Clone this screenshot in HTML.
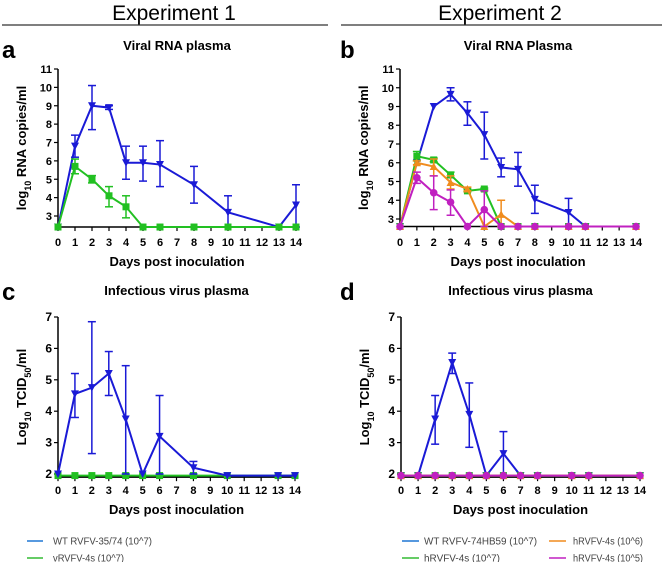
<!DOCTYPE html>
<html><head><meta charset="utf-8"><style>
body{margin:0;background:#fff;}
svg text{font-family:"Liberation Sans",sans-serif;}
</style></head><body>
<svg id="fig" width="662" height="562" viewBox="0 0 662 562">
<text x="174" y="20" text-anchor="middle" font-size="21">Experiment 1</text>
<text x="500" y="20" text-anchor="middle" font-size="21">Experiment 2</text>
<line x1="2" y1="25" x2="328" y2="25" stroke="#333" stroke-width="1.3"/>
<line x1="341" y1="25" x2="662" y2="25" stroke="#333" stroke-width="1.3"/>
<g id="legends" font-size="10" fill="#444">
<line x1="27" y1="541" x2="43" y2="541" stroke="#1f77d4" stroke-width="1.5"/>
<text x="53" y="544.5" textLength="99" lengthAdjust="spacingAndGlyphs">WT RVFV-35/74 (10^7)</text>
<line x1="27" y1="558" x2="43" y2="558" stroke="#33bb33" stroke-width="1.5"/>
<text x="53" y="561.5" textLength="71" lengthAdjust="spacingAndGlyphs">vRVFV-4s (10^7)</text>
<line x1="402" y1="541" x2="419" y2="541" stroke="#1f77d4" stroke-width="1.5"/>
<text x="424" y="544.5" textLength="113" lengthAdjust="spacingAndGlyphs">WT RVFV-74HB59 (10^7)</text>
<line x1="402" y1="558" x2="419" y2="558" stroke="#33bb33" stroke-width="1.5"/>
<text x="424" y="561.5" textLength="76" lengthAdjust="spacingAndGlyphs">hRVFV-4s (10^7)</text>
<line x1="549" y1="541" x2="566" y2="541" stroke="#f08c1e" stroke-width="1.5"/>
<text x="573" y="544.5" textLength="70" lengthAdjust="spacingAndGlyphs">hRVFV-4s (10^6)</text>
<line x1="549" y1="558" x2="566" y2="558" stroke="#c020c0" stroke-width="1.5"/>
<text x="573" y="561.5" textLength="70" lengthAdjust="spacingAndGlyphs">hRVFV-4s (10^5)</text>
</g>
</svg>
<script>
const xTicks=[0,1,2,3,4,5,6,7,8,9,10,11,12,13,14];
const rnaTicks=[3,4,5,6,7,8,9,10,11];
const tcidTicks=[2,3,4,5,6,7];
// Panel a
const aDays=[0,1,2,3,4,5,6,8,10,13,14];
const aWT=[2.4,6.8,9.0,8.9,5.9,5.9,5.8,4.7,3.2,2.4,3.6];
const aWTlo=[2.4,6.2,7.7,8.8,5.0,4.9,4.6,3.7,2.4,2.4,2.4];
const aWThi=[2.4,7.4,10.1,9.0,6.8,6.8,7.1,5.7,4.1,2.4,4.7];
const aV=[2.4,5.7,5.0,4.1,3.5,2.4,2.4,2.4,2.4,2.4,2.4];
const aVlo=[2.4,5.3,4.8,3.5,2.9,2.4,2.4,2.4,2.4,2.4,2.4];
const aVhi=[2.4,6.1,5.2,4.6,4.1,2.4,2.4,2.4,2.4,2.4,2.4];
// Panel b
const bDays=[0,1,2,3,4,5,6,7,8,10,11,14];
const bWT=[2.6,6.0,9.0,9.65,8.65,7.5,5.75,5.65,4.05,3.35,2.6,2.6];
const bWTlo=[2.6,6.0,9.0,9.3,8.0,6.2,5.25,4.75,3.3,2.6,2.6,2.6];
const bWThi=[2.6,6.0,9.0,10.0,9.25,8.7,6.25,6.55,4.8,4.1,2.6,2.6];
const bG=[2.6,6.35,6.15,5.35,4.5,4.6,2.6,2.6,2.6,2.6,2.6,2.6];
const bGlo=[2.6,6.1,6.05,5.2,4.45,4.55,2.6,2.6,2.6,2.6,2.6,2.6];
const bGhi=[2.6,6.6,6.25,5.5,4.6,4.65,2.6,2.6,2.6,2.6,2.6,2.6];
const bO=[2.6,6.0,5.8,4.95,4.6,2.6,3.25,2.6,2.6,2.6,2.6,2.6];
const bOlo=[2.6,5.9,5.3,4.6,4.5,2.6,2.6,2.6,2.6,2.6,2.6,2.6];
const bOhi=[2.6,6.1,6.2,5.3,4.7,2.6,4.0,2.6,2.6,2.6,2.6,2.6];
const bM=[2.6,5.2,4.4,3.9,2.6,3.5,2.6,2.6,2.6,2.6,2.6,2.6];
const bMlo=[2.6,4.9,3.5,3.2,2.6,2.6,2.6,2.6,2.6,2.6,2.6,2.6];
const bMhi=[2.6,5.5,5.3,4.55,2.6,4.5,2.6,2.6,2.6,2.6,2.6,2.6];
// Panel c
const cDays=[0,1,2,3,4,5,6,8,10,13,14];
const cWT=[2.0,4.55,4.75,5.2,3.75,2.0,3.2,2.2,1.95,1.95,1.95];
const cWTlo=[2.0,3.8,2.65,4.5,2.0,2.0,2.0,2.0,1.95,1.95,1.95];
const cWThi=[2.0,5.2,6.85,5.9,5.45,2.0,4.5,2.4,1.95,1.95,1.95];
const cV=[1.95,1.95,1.95,1.95,1.95,1.95,1.95,1.95,1.95,1.95,1.95];
// Panel d
const dDays=[0,1,2,3,4,5,6,7,8,10,11,14];
const dWT=[1.95,1.95,3.75,5.55,3.9,1.95,2.65,1.95,1.95,1.95,1.95,1.95];
const dWTlo=[1.95,1.95,2.95,5.2,2.85,1.95,1.95,1.95,1.95,1.95,1.95,1.95];
const dWThi=[1.95,1.95,4.5,5.85,4.9,1.95,3.35,1.95,1.95,1.95,1.95,1.95];
const dG=[1.95,1.95,1.95,1.95,1.95,1.95,1.95,1.95,1.95,1.95,1.95,1.95];
const dO=[1.95,1.95,1.95,1.95,1.95,1.95,1.95,1.95,1.95,1.95,1.95,1.95];
const dM=[1.95,1.95,1.95,1.95,1.95,1.95,1.95,1.95,1.95,1.95,1.95,1.95];

const NS='http://www.w3.org/2000/svg';
const svg=document.getElementById('fig');
function mk(tag,attrs,parent){const e=document.createElementNS(NS,tag);for(const k in attrs)e.setAttribute(k,attrs[k]);(parent||svg).appendChild(e);return e;}
const BLUE='#1a1ad6',GREEN='#22c022',ORANGE='#f08c1e',MAG='#c020c0';

function panel(p){
  const g=mk('g',{});
  
  
  const X=d=>p.x0+(p.x14-p.x0)*d/14;
  const Y=v=>p.yRef-(v-p.vRef)*p.k;
  const yb=Y(p.vmin);
  let t=mk('text',{x:p.lx,y:p.ly,'font-size':24,'font-weight':'bold'},g);t.textContent=p.id;
  
  t=mk('text',{x:(p.x0+p.x14)/2,y:p.ty,'font-size':13,'font-weight':'bold','text-anchor':'middle'},g);t.textContent=p.title;
  
  let a=mk('line',{x1:p.x0,y1:yb,x2:p.x14,y2:yb,stroke:'#000','stroke-width':1.5},g);
  
  a=mk('line',{x1:p.x0,y1:yb,x2:p.x0,y2:Y(p.yt[p.yt.length-1]),stroke:'#000','stroke-width':1.5},g);
  
  xTicks.forEach(d=>{
    mk('line',{x1:X(d),y1:yb,x2:X(d),y2:yb+4,stroke:'#000','stroke-width':1.2},g);
    const tl=mk('text',{x:X(d),y:p.xly,'font-size':11,'font-weight':'bold','text-anchor':'middle'},g);tl.textContent=d;
    
  });
  p.yt.forEach(v=>{
    mk('line',{x1:p.x0-4,y1:Y(v),x2:p.x0,y2:Y(v),stroke:'#000','stroke-width':1.2},g);
    const tl=mk('text',{x:p.x0-6,y:Y(v)+4,'font-size':p.yfs,'font-weight':'bold','text-anchor':'end'},g);tl.textContent=v;
    
  });
  t=mk('text',{x:(p.x0+p.x14)/2,y:p.xty,'font-size':13,'font-weight':'bold','text-anchor':'middle'},g);t.textContent='Days post inoculation';
  
  const cy=(Y(p.yt[p.yt.length-1])+yb)/2;
  t=mk('text',{x:0,y:0,'font-size':13,'font-weight':'bold','text-anchor':'middle',transform:`translate(${p.x0-32},${cy}) rotate(-90)`},g);
  t.innerHTML=p.ytitle;
  
  p.series.forEach(s=>{
    const sg=mk('g',{},g);
    
    if(s.lo){s.vals.forEach((v,i)=>{
      if(s.hi[i]-s.lo[i]<0.05)return;
      const x=X(p.days[i]);
      mk('line',{x1:x,y1:Y(s.lo[i]),x2:x,y2:Y(s.hi[i]),stroke:s.c,'stroke-width':1.5},sg);
      mk('line',{x1:x-4,y1:Y(s.lo[i]),x2:x+4,y2:Y(s.lo[i]),stroke:s.c,'stroke-width':1.5},sg);
      mk('line',{x1:x-4,y1:Y(s.hi[i]),x2:x+4,y2:Y(s.hi[i]),stroke:s.c,'stroke-width':1.5},sg);
    });}
    const pts=s.vals.map((v,i)=>X(p.days[i])+','+Y(v)).join(' ');
    const ln=mk('polyline',{points:pts,fill:'none',stroke:s.c,'stroke-width':2},sg);
    
    s.vals.forEach((v,i)=>{
      const x=X(p.days[i]),y=Y(v);let m;
      if(s.m==='tri')m=mk('polygon',{points:`${x-4},${y-3.5} ${x+4},${y-3.5} ${x},${y+4}`,fill:s.c},sg);
      else if(s.m==='up')m=mk('polygon',{points:`${x-4},${y+3.5} ${x+4},${y+3.5} ${x},${y-4}`,fill:s.c},sg);
      else if(s.m==='sq')m=mk('rect',{x:x-3.5,y:y-3.5,width:7,height:7,fill:s.c},sg);
      else m=mk('circle',{cx:x,cy:y,r:3.8,fill:s.c},sg);
      
      
    });
  });
}
const rnaT='log<tspan baseline-shift="sub" font-size="9">10</tspan> RNA copies/ml';
const tcT='Log<tspan baseline-shift="sub" font-size="9">10</tspan> TCID<tspan baseline-shift="sub" font-size="9">50</tspan>/ml';
panel({id:'a',title:'Viral RNA plasma',lx:2,ly:58,ty:50,x0:58,x14:296,yRef:216,vRef:3,k:18.375,vmin:2.4,yt:rnaTicks,yfs:11,xly:246,xty:266,ytitle:rnaT,days:aDays,
 series:[{name:'wt',c:BLUE,m:'tri',vals:aWT,lo:aWTlo,hi:aWThi},{name:'vrvfv',c:GREEN,m:'sq',vals:aV,lo:aVlo,hi:aVhi}]});
panel({id:'b',title:'Viral RNA Plasma',lx:340,ly:58,ty:50,x0:400,x14:636,yRef:219,vRef:3,k:18.75,vmin:2.6,yt:rnaTicks,yfs:11,xly:246,xty:266,ytitle:rnaT,days:bDays,
 series:[{name:'wt',c:BLUE,m:'tri',vals:bWT,lo:bWTlo,hi:bWThi},{name:'hrvfv-7',c:GREEN,m:'sq',vals:bG,lo:bGlo,hi:bGhi},{name:'hrvfv-6',c:ORANGE,m:'up',vals:bO,lo:bOlo,hi:bOhi},{name:'hrvfv-5',c:MAG,m:'ci',vals:bM,lo:bMlo,hi:bMhi}]});
panel({id:'c',title:'Infectious virus plasma',lx:2,ly:300,ty:295,x0:58,x14:295,yRef:474,vRef:2,k:31.4,vmin:1.9,yt:tcidTicks,yfs:12,xly:494,xty:514,ytitle:tcT,days:cDays,
 series:[{name:'vrvfv',c:GREEN,m:'sq',vals:cV},{name:'wt',c:BLUE,m:'tri',vals:cWT,lo:cWTlo,hi:cWThi}]});
panel({id:'d',title:'Infectious virus plasma',lx:340,ly:300,ty:295,x0:401,x14:640,yRef:474,vRef:2,k:31.4,vmin:1.9,yt:tcidTicks,yfs:12,xly:494,xty:514,ytitle:tcT,days:dDays,
 series:[{name:'wt',c:BLUE,m:'tri',vals:dWT,lo:dWTlo,hi:dWThi},{name:'hrvfv-7',c:GREEN,m:'sq',vals:dG},{name:'hrvfv-6',c:ORANGE,m:'up',vals:dO},{name:'hrvfv-5',c:MAG,m:'ci',vals:dM}]});
</script>
</body></html>
